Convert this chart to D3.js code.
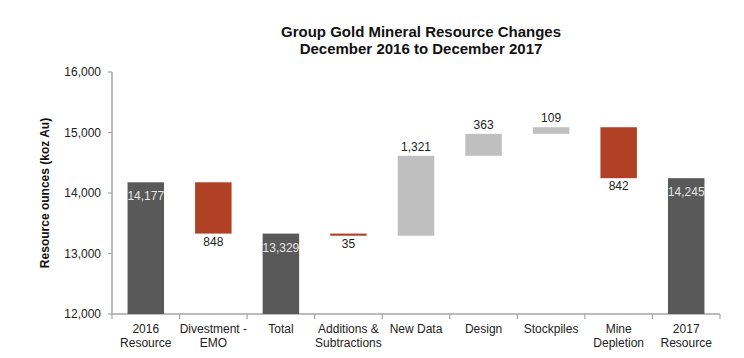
<!DOCTYPE html>
<html>
<head>
<meta charset="utf-8">
<script src="https://cdn.jsdelivr.net/npm/d3@7"></script>
<style>
  body { margin: 0; background: #fff; }
  text { font-family: "Liberation Sans", Arial, sans-serif; }
</style>
</head>
<body>
<div id="chart"></div>
<script>
// categories and changes (koz Au)
var categories = ["2016 Resource", "Divestment - EMO", "Total", "Additions & Subtractions",
                  "New Data", "Design", "Stockpiles", "Mine Depletion", "2017 Resource"];
var catLines = [["2016", "Resource"], ["Divestment -", "EMO"], ["Total"], ["Additions &", "Subtractions"],
                ["New Data"], ["Design"], ["Stockpiles"], ["Mine", "Depletion"], ["2017", "Resource"]];
var values = [14177, -848, 13329, -35, 1321, 363, 109, -842, 14245];
var kinds = ["total", "down", "total", "down", "up", "up", "up", "down", "total"];
var yTicks = [12000, 13000, 14000, 15000, 16000];

var width = 744, height = 358;
var margin = {left: 112, right: 24, top: 72, bottom: 44};

var svg = d3.select("#chart").append("svg")
    .attr("width", width)
    .attr("height", height);

// build waterfall rows
var running = 0;
var rows = values.map(function(v, i) {
    var r;
    if (kinds[i] === "total") {
        r = {lo: 12000, hi: v};
        running = v;
    } else {
        var start = running;
        running = start + v;
        r = {lo: Math.min(start, running), hi: Math.max(start, running)};
    }
    r.cat = categories[i]; r.kind = kinds[i]; r.value = v;
    return r;
});

var x = d3.scaleBand()
    .domain(categories)
    .range([margin.left, width - margin.right])
    .paddingInner(0.46)
    .paddingOuter(0.23);

var y = d3.scaleLinear()
    .domain([12000, 16000])
    .range([height - margin.bottom, margin.top]);

var color = {total: "#595959", down: "#b04124", up: "#bfbfbf"};
var fmt = d3.format(",");

// axes
var axisColor = "#a6a6a6";
svg.append("line")
    .attr("x1", margin.left).attr("x2", margin.left)
    .attr("y1", y(16000)).attr("y2", y(12000))
    .attr("stroke", axisColor).attr("stroke-width", 1.5);

svg.append("line")
    .attr("x1", margin.left).attr("x2", width - margin.right)
    .attr("y1", y(12000)).attr("y2", y(12000))
    .attr("stroke", axisColor).attr("stroke-width", 1.5);

svg.append("g").selectAll("line")
    .data(yTicks).enter().append("line")
    .attr("x1", margin.left - 4).attr("x2", margin.left)
    .attr("y1", d => y(d)).attr("y2", d => y(d))
    .attr("stroke", axisColor).attr("stroke-width", 1.2);

svg.append("g").selectAll("text")
    .data(yTicks).enter().append("text")
    .attr("x", margin.left - 11)
    .attr("y", d => y(d))
    .attr("dy", "0.35em")
    .attr("text-anchor", "end")
    .style("font-size", "12px")
    .style("fill", "#222")
    .text(d => fmt(d));

// category boundary ticks
var step = x.step();
svg.append("g").selectAll("line")
    .data(d3.range(categories.length + 1)).enter().append("line")
    .attr("x1", d => margin.left + d * step).attr("x2", d => margin.left + d * step)
    .attr("y1", y(12000)).attr("y2", y(12000) + 5)
    .attr("stroke", axisColor).attr("stroke-width", 1.2);

// category labels
var labels = svg.append("g").selectAll("text")
    .data(catLines).enter().append("text")
    .attr("text-anchor", "middle")
    .style("font-size", "12px")
    .style("fill", "#222");
labels.each(function(lines, i) {
    var t = d3.select(this);
    lines.forEach(function(s, j) {
        t.append("tspan")
            .attr("x", x(categories[i]) + x.bandwidth() / 2)
            .attr("y", y(12000) + 19 + j * 14)
            .text(s);
    });
});

// bars
svg.append("g").selectAll("rect")
    .data(rows).enter().append("rect")
    .attr("x", d => x(d.cat))
    .attr("width", x.bandwidth())
    .attr("y", d => y(d.hi))
    .attr("height", d => Math.max(2, y(d.lo) - y(d.hi)))
    .attr("fill", d => color[d.kind]);

// value labels
svg.append("g").selectAll("text")
    .data(rows).enter().append("text")
    .attr("x", d => x(d.cat) + x.bandwidth() / 2)
    .attr("y", function(d) {
        if (d.kind === "total") return y(d.hi) + 18;
        if (d.kind === "down") return y(d.lo) + 12;
        return y(d.hi) - 5;
    })
    .attr("text-anchor", "middle")
    .style("font-size", "12px")
    .style("fill", d => d.kind === "total" ? "#e6e6e6" : "#222")
    .text(d => fmt(Math.abs(d.value)));

// y axis title
svg.append("text")
    .attr("transform", "translate(49," + ((y(12000) + y(16000)) / 2) + ") rotate(-90)")
    .attr("text-anchor", "middle")
    .style("font-size", "12px")
    .style("font-weight", "bold")
    .style("fill", "#111")
    .text("Resource ounces (koz Au)");

// title
var title = svg.append("text")
    .attr("text-anchor", "middle")
    .style("font-size", "15px")
    .style("font-weight", "bold")
    .style("fill", "#111");
title.append("tspan").attr("x", 421).attr("y", 37).text("Group Gold Mineral Resource Changes");
title.append("tspan").attr("x", 421).attr("y", 54).text("December 2016 to December 2017");
</script>
</body>
</html>
